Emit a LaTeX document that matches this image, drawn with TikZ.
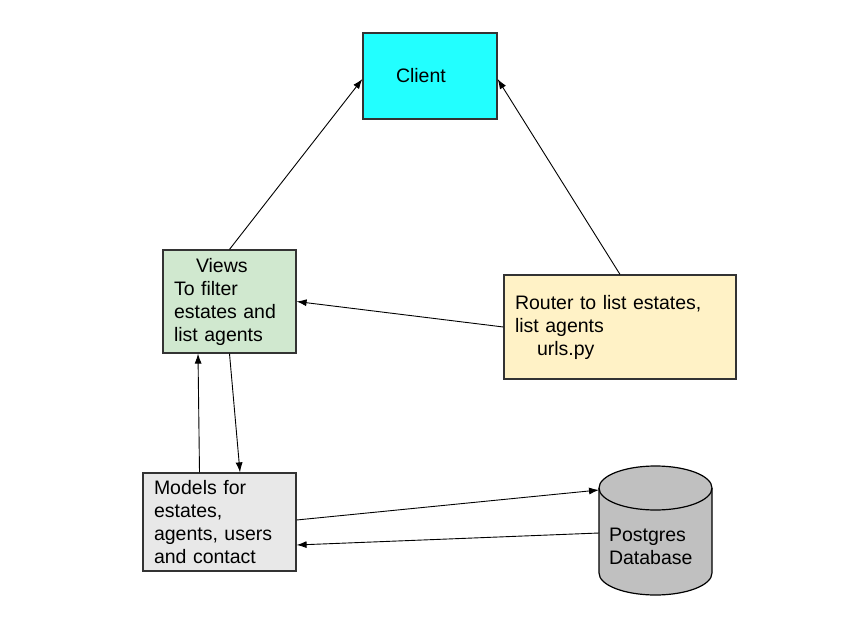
\documentclass[tikz,border=0pt]{standalone}
\usepackage{fontspec}
\setmainfont{Liberation Sans}
\usetikzlibrary{arrows.meta}

\definecolor{clientcyan}{HTML}{22FFFF}
\definecolor{viewgreen}{HTML}{D0E8CF}
\definecolor{routeryellow}{HTML}{FFF2C6}
\definecolor{modelgray}{HTML}{E8E8E8}
\definecolor{dbgray}{HTML}{C0C0C0}
\definecolor{edge}{HTML}{333333}

\tikzstyle{box} = [rectangle, draw=edge, line width=1.2pt, inner xsep=11pt,
                   align=left, font=\fontsize{19.5}{23}\selectfont]
\tikzstyle{dbtext} = [align=left, text width=84pt, inner sep=0pt,
                      font=\fontsize{19.5}{23}\selectfont]
\tikzstyle{dbshape} = [draw=black, line width=1.2pt, fill=dbgray]
\tikzstyle{flow} = [-{Latex[length=10pt,width=7pt]}, line width=0.9pt]

\begin{document}
\begin{tikzpicture}[x=1pt, y=-1pt]
  \useasboundingbox (0,0) rectangle (847,642);

  %% boxes
  \node (client) [box, fill=clientcyan, minimum width=134pt, minimum height=86pt,
                  text width=112pt] at (430,76) {\hspace*{22pt}Client};
  \node (views) [box, fill=viewgreen, minimum width=133pt, minimum height=103pt,
                 text width=111pt] at (229.5,301.5)
        {\hspace*{22pt}Views\\To filter\\estates and\\list agents};
  \node (router) [box, fill=routeryellow, minimum width=232pt, minimum height=104pt,
                  text width=210pt] at (620,327)
        {Router to list estates,\\list agents\\\hspace*{22pt}urls.py};
  \node (models) [box, fill=modelgray, minimum width=153pt, minimum height=98pt,
                  text width=131pt] at (219.5,522)
        {Models for\\estates,\\agents, users\\and contact};

  %% database drum
  \draw [dbshape] (599,488) -- (599,573) arc (180:360:56.5pt and 22pt)
        -- (712,488) arc (0:180:56.5pt and 22pt) -- cycle;
  \draw [line width=1.2pt] (599,488) arc (180:360:56.5pt and 22pt);
  \node (database) [dbtext] at (651,546) {Postgres\\Database};
  \coordinate (dbin) at (599,490);
  \coordinate (dbout) at (599,533);

  %% requests up to the client
  \draw [flow] (views.north) to ([yshift=-3pt]client.west);
  \draw [flow] (router.north) to ([yshift=-3pt]client.east);
  \draw [flow] (router.west) to (views.east);

  %% views and models
  \draw [flow] ([xshift=-20pt]models.north) to ([xshift=-31.5pt]views.south);
  \draw [flow] (views.south) to ([xshift=20.5pt]models.north);

  %% models and database
  \draw [flow] ([yshift=2pt]models.east) to (dbin);
  \draw [flow] (dbout) to ([yshift=-23pt]models.east);
\end{tikzpicture}
\end{document}
